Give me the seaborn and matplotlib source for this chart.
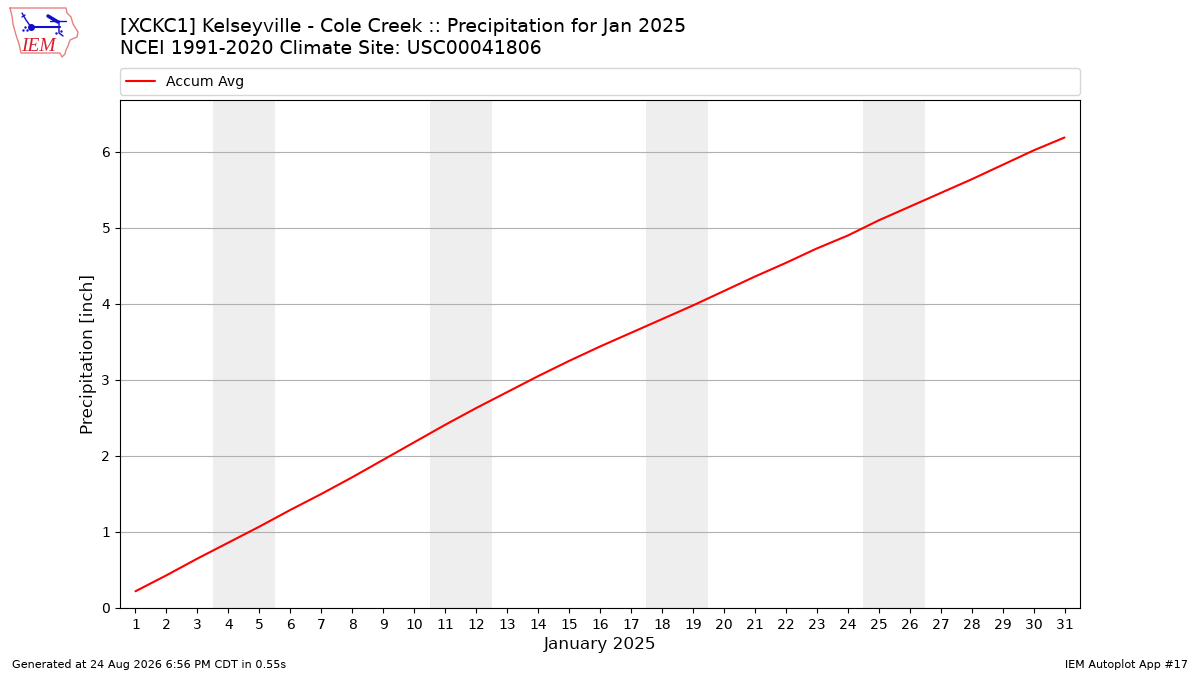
import matplotlib
matplotlib.use("Agg")
import matplotlib.pyplot as plt
import pandas as pd
import seaborn as sns

days = list(range(1, 32))
accum_avg = [0.22, 0.43, 0.65, 0.86, 1.07, 1.29, 1.50, 1.72, 1.95, 2.18, 2.41,
             2.63, 2.84, 3.05, 3.25, 3.44, 3.62, 3.80, 3.98, 4.17, 4.36, 4.54,
             4.73, 4.90, 5.10, 5.28, 5.46, 5.64, 5.83, 6.02, 6.19]
weekends = [(3.5, 5.5), (10.5, 12.5), (17.5, 19.5), (24.5, 26.5)]
yticks = [0, 1, 2, 3, 4, 5, 6]

title = "[XCKC1] Kelseyville - Cole Creek :: Precipitation for Jan 2025\nNCEI 1991-2020 Climate Site: USC00041806"

# rough outline of the state for the logo, in pixels of the picture
logo_x = [10, 11, 66, 67, 71, 73, 78, 77, 70, 68, 66, 65, 62, 60, 21, 19, 16, 13, 12, 10]
logo_y = [8, 8, 8, 13, 17, 24, 32, 37, 40, 46, 50, 54, 57, 53, 53, 44, 35, 24, 16, 8]

sns.set_theme(style="white")
plt.rcParams["text.hinting"] = "no_autohint"
plt.rcParams["text.hinting_factor"] = 8
df = pd.DataFrame({"day": days, "Accum Avg": accum_avg})

fig = plt.figure(figsize=(12, 6.75), dpi=100)
ax = fig.add_axes([0.1, 0.0993, 0.8, 0.7526])

for start, end in weekends:
    ax.axvspan(start, end, color="#eeeeee", lw=0, zorder=0)

sns.lineplot(data=df, x="day", y="Accum Avg", color="red", lw=1.5,
             label="Accum Avg", ax=ax)

ax.set_xlim(0.5, 31.5)
ax.set_ylim(0, 6.684)
ax.set_xticks(days)
ax.set_yticks(yticks)
ax.grid(axis="y", color="#b0b0b0", lw=0.8)
ax.set_axisbelow(True)
ax.tick_params(axis="both", labelsize=10, length=3.5, width=0.8, color="black",
               labelcolor="black", bottom=True, left=True, pad=3.5)
for spine in ax.spines.values():
    spine.set_edgecolor("black")
    spine.set_linewidth(0.8)

ax.set_xlabel("January 2025", fontsize=12.2, color="black", labelpad=3)
ax.set_ylabel("Precipitation [inch]", fontsize=12.2, color="black", labelpad=3)

ax.legend(loc="lower left", bbox_to_anchor=(0, 1.0095, 1, 0.05), mode="expand",
          borderaxespad=0, borderpad=0.45, fontsize=10.2, frameon=True,
          labelcolor="black", edgecolor="#cccccc", framealpha=0.8)

fig.text(0.1, 0.9135, title, fontsize=13.6, color="black", linespacing=1.33,
         va="bottom", ha="left")
fig.text(0.01, 0.0075, "Generated at 24 Aug 2026 6:56 PM CDT in 0.55s",
         fontsize=8.1, color="black", va="bottom")
fig.text(0.99, 0.0075, "IEM Autoplot App #17", fontsize=8.05, color="black",
         va="bottom", ha="right")

# logo
logo = fig.add_axes([0, 1 - 60 / 675, 80 / 1200, 60 / 675])
logo.set_xlim(0, 80)
logo.set_ylim(60, 0)
logo.axis("off")
logo.plot(logo_x, logo_y, color="#e88080", lw=1)
logo.plot([31, 60], [27, 27], color="#1010c8", lw=1.5)
logo.plot([31], [27], "o", color="#1010c8", ms=4)
logo.plot([22, 26, 31], [13, 20, 27], color="#1010c8", lw=1)
logo.plot([22, 25], [17, 15], color="#1010c8", lw=1)
logo.plot([48, 58], [16, 22], color="#1010c8", lw=2.5)
logo.plot([50, 66], [21, 21], color="#1010c8", lw=1)
logo.plot([59, 59, 63], [21, 33, 36], color="#1010c8", lw=1)
logo.plot([23, 25, 27, 56, 61], [30, 27, 30, 33, 31], ".", color="#1010c8", ms=1.5)
logo.text(21, 51, "IEM", color="#d02030", fontsize=14, style="italic",
          family="Liberation Serif", va="baseline")

fig.savefig("out.png", dpi=100)
